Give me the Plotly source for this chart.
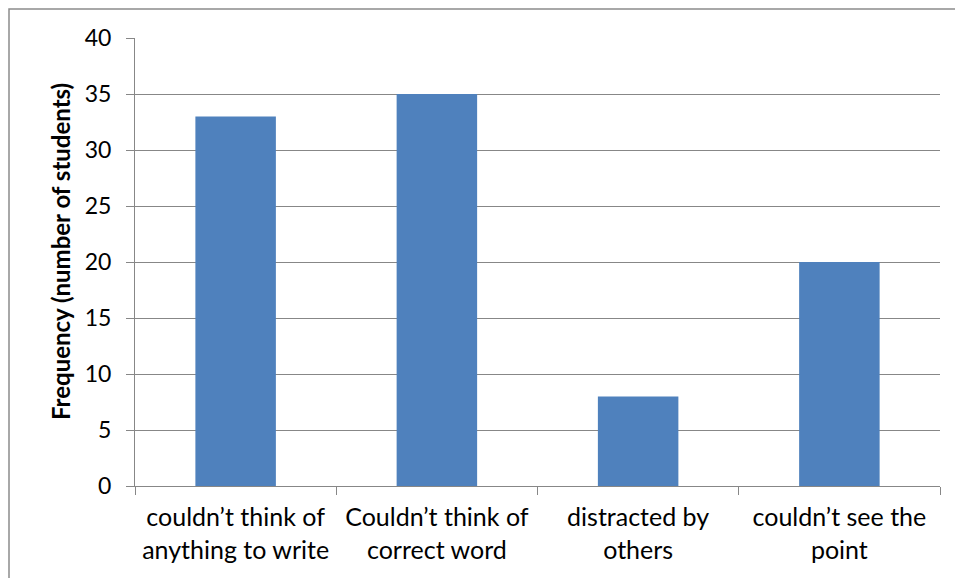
import plotly.graph_objects as go

categories = ["couldn’t think of<br>anything to write", "Couldn’t think of<br>correct word",
              "distracted by<br>others", "couldn’t see the<br>point"]
values = [33, 35, 8, 20]
y_ticks = [0, 5, 10, 15, 20, 25, 30, 35, 40]
y_title = "Frequency (number of students)"

W, H = 955, 578
L, R, T, B = 135, 15, 38, 92
pw, ph = W - L - R, H - T - B

fig = go.Figure(go.Bar(x=categories, y=values, marker=dict(color="#4F81BD", line=dict(width=0)),
                       width=0.4))

grid = "#878787"
fig.update_layout(
    width=W, height=H,
    margin=dict(l=L, r=R, t=T, b=B),
    paper_bgcolor="white", plot_bgcolor="white",
    font=dict(family="Lato, 'Noto Sans', sans-serif", size=24, color="black"),
    showlegend=False,
    xaxis=dict(
        type="category", showgrid=False, showline=True, linecolor=grid, linewidth=1,
        ticks="outside", tickson="boundaries", ticklen=8, tickcolor=grid, tickwidth=1,
        tickfont=dict(size=25), range=[-0.5, 3.5], ticklabelstandoff=9,
    ),
    yaxis=dict(
        range=[0, 40], tickvals=y_ticks, showgrid=True, gridcolor=grid, gridwidth=1,
        showline=True, linecolor=grid, linewidth=1, ticks="outside", ticklen=8,
        tickcolor=grid, tickwidth=1, tickfont=dict(size=23), zeroline=False,
        ticklabelstandoff=10,
    ),
    annotations=[dict(text="<b>" + y_title + "</b>", textangle=-90, showarrow=False,
                      xref="paper", yref="paper", x=(60 - L) / pw, y=(H - B - 252) / ph,
                      xanchor="center", yanchor="middle", font=dict(size=24))],
    shapes=[dict(type="rect", xref="paper", yref="paper",
                 x0=(9 - L) / pw, x1=(W + 20 - L) / pw,
                 y0=(H - B - (H + 20)) / ph, y1=(H - B - 9) / ph,
                 line=dict(color="#8c8c8c", width=1.5), fillcolor="rgba(0,0,0,0)", layer="below")],
)

fig.write_html("out.html")
